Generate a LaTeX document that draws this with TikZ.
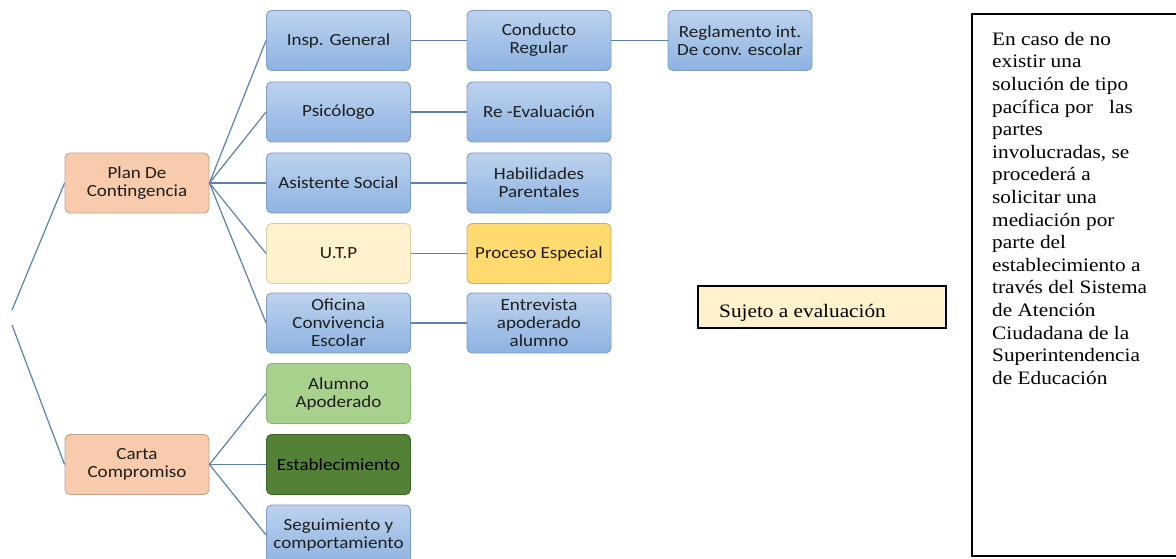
\documentclass[tikz,border=0pt]{standalone}
\usepackage{fontspec}
\usetikzlibrary{shadings}
\newfontfamily\boxfont[FakeStretch=1.12]{Carlito}
\newfontfamily\tnrfont[FakeStretch=1.12]{Liberation Serif}
\definecolor{bluetop}{HTML}{BDD2EE}
\definecolor{bluebot}{HTML}{8DB3E2}
\definecolor{blueedge}{HTML}{7F9CC8}
\definecolor{peach}{HTML}{F8CBAD}
\definecolor{peachedge}{HTML}{C4A08C}
\definecolor{utpfill}{HTML}{FFF2CC}
\definecolor{utpedge}{HTML}{D8CDA6}
\definecolor{procfill}{HTML}{FFDA6E}
\definecolor{procedge}{HTML}{C8AE6A}
\definecolor{alufill}{HTML}{A9D18E}
\definecolor{aluedge}{HTML}{8AAE74}
\definecolor{estfill}{HTML}{538135}
\definecolor{estedge}{HTML}{3F6428}
\definecolor{linkcol}{HTML}{5B80B2}
\definecolor{txt}{HTML}{1E1E1E}
\tikzset{
  mbox/.style={rectangle, rounded corners=5pt, minimum width=144pt, minimum height=60pt,
    inner sep=2pt, align=center, text=txt, line width=0.9pt,
    font=\boxfont\fontsize{17}{18}\selectfont},
  bluebox/.style={mbox, draw=blueedge, top color=bluetop, bottom color=bluebot},
  peachbox/.style={mbox, draw=peachedge, fill=peach},
  utpbox/.style={mbox, draw=utpedge, fill=utpfill},
  procbox/.style={mbox, draw=procedge, fill=procfill},
  alubox/.style={mbox, draw=aluedge, fill=alufill},
  estbox/.style={mbox, draw=estedge, fill=estfill, text=black},
  link/.style={draw=linkcol, line width=1.2pt},
}
\begin{document}
\begin{tikzpicture}[x=1pt,y=-1pt]
\useasboundingbox (0,0) rectangle (1176,559);
% column 1
\node[peachbox] (plan) at (137,183) {Plan De\\Contingencia};
\node[peachbox] (carta) at (137,464.5) {Carta\\Compromiso};
% column 2
\node[bluebox] (insp) at (338.5,40.5) {Insp. General};
\node[bluebox] (psi) at (338.5,112) {Psicólogo};
\node[bluebox] (asis) at (338.5,183) {Asistente Social};
\node[utpbox] (utp) at (338.5,253.5) {U.T.P};
\node[bluebox] (ofi) at (338.5,323) {Oficina\\Convivencia\\Escolar};
\node[alubox] (alu) at (338.5,393.5) {Alumno\\Apoderado};
\node[estbox] (est) at (338.5,464.5) {Establecimiento};
\node[bluebox] (seg) at (338.5,535) {Seguimiento y\\comportamiento};
% column 3
\node[bluebox] (cond) at (539,40.5) {Conducto\\Regular};
\node[bluebox] (reev) at (539,112) {Re -Evaluación};
\node[bluebox] (hab) at (539,183) {Habilidades\\Parentales};
\node[procbox] (proc) at (539,253.5) {Proceso Especial};
\node[bluebox] (entr) at (539,323) {Entrevista\\apoderado\\alumno};
% column 4
\node[bluebox] (regl) at (740,40.5) {Reglamento int.\\De conv. escolar};
% left free ends
\coordinate (lu) at (12,310);
\coordinate (ll) at (12,325);
% connectors
\draw[link] (lu) -- (plan.west);
\draw[link] (ll) -- (carta.west);
\foreach \n in {insp,psi,asis,utp,ofi}{\draw[link] (plan.east) -- (\n.west);}
\foreach \n in {alu,est,seg}{\draw[link] (carta.east) -- (\n.west);}
\draw[link] (insp.east) -- (cond.west);
\draw[link] (psi.east) -- (reev.west);
\draw[link] (asis.east) -- (hab.west);
\draw[link] (utp.east) -- (proc.west);
\draw[link] (ofi.east) -- (entr.west);
\draw[link] (cond.east) -- (regl.west);
% Sujeto a evaluacion
\node[draw=black, line width=1.5pt, fill=utpfill, minimum width=248pt, minimum height=42pt,
  inner sep=0pt] (suj) at (822,307) {};
\node[anchor=base west, inner sep=0pt, font=\tnrfont\fontsize{19}{22.6}\selectfont] (sujt) at (719,317) {Sujeto a evaluación};
% right text box
\coordinate (rbtr) at (1176,14);
\coordinate (rbtl) at (972,14);
\coordinate (rbbl) at (972,556);
\coordinate (rbbr) at (1176,556);
\draw[line width=2pt, black] (rbtr) -- (rbtl) -- (rbbl) -- (rbbr);
\node[anchor=north west, inner sep=0pt, align=left, font=\tnrfont\fontsize{19}{22.6}\selectfont] (rtext) at (992,32)
{En caso de no\\existir una\\solución de tipo\\pacífica por\ \ \ las\\partes\\involucradas, se\\procederá a\\solicitar una\\mediación por\\parte del\\establecimiento a\\través del Sistema\\de Atención\\Ciudadana de la\\Superintendencia\\de Educación};
\end{tikzpicture}
\end{document}
